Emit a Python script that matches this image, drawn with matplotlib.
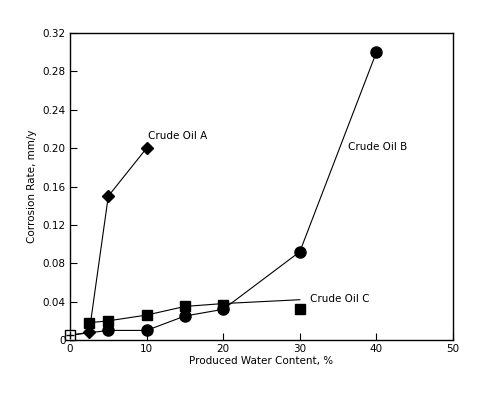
import numpy as np
import matplotlib
matplotlib.use('Agg')
import matplotlib.pyplot as plt

# Crude Oil A (diamonds)
a_x = [0, 2.5, 5, 10]
a_y = [0.005, 0.008, 0.150, 0.200]

# Crude Oil B (circles)
b_x = [0, 5, 10, 15, 20, 30, 40]
b_y = [0.005, 0.010, 0.010, 0.025, 0.032, 0.092, 0.300]

# Crude Oil C (squares) and its trend line
c_x = [0, 2.5, 5, 10, 15, 20, 30]
c_y = [0.005, 0.018, 0.020, 0.026, 0.035, 0.037, 0.032]
c_line_x = [2.5, 5, 10, 15, 20, 30]
c_line_y = [0.018, 0.020, 0.026, 0.035, 0.038, 0.042]

x_ticks = [0, 10, 20, 30, 40, 50]
y_ticks = [0, 0.04, 0.08, 0.12, 0.16, 0.20, 0.24, 0.28, 0.32]
y_labels = ['0', '0.04', '0.08', '0.12', '0.16', '0.20', '0.24', '0.28', '0.32']

fs = 7.5
fig = plt.figure(figsize=(4.9, 3.98), dpi=100)
ax = fig.add_axes([0.1429, 0.1457, 0.7816, 0.7713])

ax.plot(a_x, a_y, 'k-', lw=0.8)
ax.plot(a_x[1:], a_y[1:], 'kD', ms=6.5)
ax.plot(b_x, b_y, 'k-', lw=0.8)
ax.plot(b_x[1:], b_y[1:], 'ko', ms=8)
ax.plot(c_line_x, c_line_y, 'k-', lw=0.8)
ax.plot(c_x[1:], c_y[1:], 'ks', ms=7.5)
# overlapping start point
ax.plot(c_x[0], c_y[0], 's', mfc='white', mec='k', ms=7, mew=1, clip_on=False, zorder=5)
ax.plot(c_x[0], c_y[0], '+', color='k', ms=6, mew=1, clip_on=False, zorder=6)

ax.text(10.2, 0.207, 'Crude Oil A', fontsize=fs, ha='left', va='bottom')
ax.text(36.3, 0.201, 'Crude Oil B', fontsize=fs, ha='left', va='center')
ax.text(31.3, 0.043, 'Crude Oil C', fontsize=fs, ha='left', va='center')

ax.set_xlim(0, 50)
ax.set_ylim(0, 0.32)
ax.set_xticks(x_ticks)
ax.set_yticks(y_ticks)
ax.set_yticklabels(y_labels)
ax.tick_params(direction='in', length=5, width=0.8, labelsize=fs, pad=3)
ax.set_xlabel('Produced Water Content, %', fontsize=fs, labelpad=1)
ax.set_ylabel('Corrosion Rate, mm/y', fontsize=fs, labelpad=4)
for s in ax.spines.values():
    s.set_linewidth(1)

plt.savefig('out.png', dpi=100)
